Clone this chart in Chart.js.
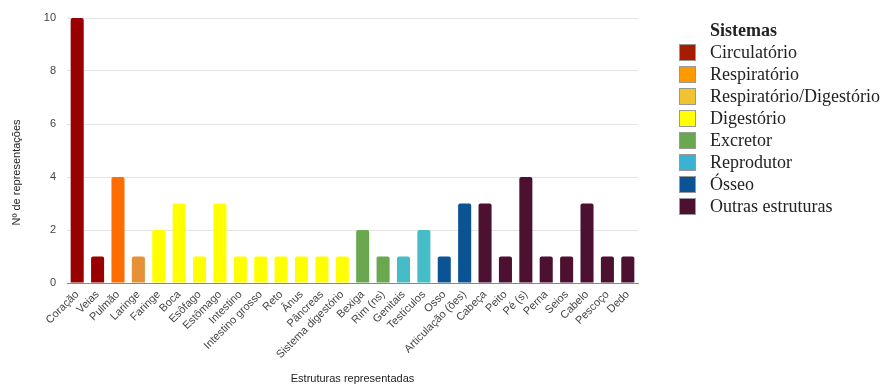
<!DOCTYPE html>
<html lang="pt">
<head>
<meta charset="utf-8">
<script src="https://cdn.jsdelivr.net/npm/chart.js@4"></script>
<style>
  html, body { margin: 0; padding: 0; background: #fff; }
  #wrap { position: relative; width: 886px; height: 388px; }
  #chart { position: absolute; left: 0; top: 0; }
  #legend {
    position: absolute; left: 679px; top: 19px;
    font-family: "Liberation Serif", "Times New Roman", serif; font-size: 18px; color: #222;
  }
  #legend .title { font-weight: bold; margin-left: 31px; height: 22px; line-height: 22px; }
  #legend .item { display: flex; align-items: center; height: 22px; }
  #legend .box {
    width: 15px; height: 15px; border: 1px solid #999; box-sizing: content-box;
    margin-right: 14px; flex: none;
  }
</style>
</head>
<body>
<div id="wrap">
  <canvas id="chart" width="886" height="388"></canvas>
  <div id="legend"></div>
</div>
<script>
// Body structures and how many times each was represented
const categories = [
  "Coração", "Veias", "Pulmão", "Laringe", "Faringe", "Boca", "Esôfago",
  "Estômago", "Intestino", "Intestino grosso", "Reto", "Ânus", "Pâncreas",
  "Sistema digestório", "Bexiga", "Rim (ns)", "Genitais", "Testículos",
  "Osso", "Articulação (ões)", "Cabeça", "Peito", "Pé (s)", "Perna",
  "Seios", "Cabelo", "Pescoço", "Dedo"
];
const values = [10, 1, 4, 1, 2, 3, 1, 3, 1, 1, 1, 1, 1, 1, 2, 1, 1, 2, 1, 3, 3, 1, 4, 1, 1, 3, 1, 1];

// Body system each structure belongs to (index into systemNames)
const systemOf = [0, 0, 1, 2, 3, 3, 3, 3, 3, 3, 3, 3, 3, 3, 4, 4, 5, 5, 6, 6, 7, 7, 7, 7, 7, 7, 7, 7];
const systemNames = [
  "Circulatório", "Respiratório", "Respiratório/Digestório", "Digestório",
  "Excretor", "Reprodutor", "Ósseo", "Outras estruturas"
];
const barColors = ["#990000", "#ff6d01", "#e69138", "#ffff00", "#6aa84f", "#46bdc6", "#0b5394", "#4c1130"];
const legendColors = ["#a61c00", "#ff9900", "#f1c232", "#ffff00", "#6aa84f", "#3cb1d3", "#0b5394", "#4c1130"];
const yTicks = [0, 2, 4, 6, 8, 10];
const yTitle = "Nº de representações";
const xTitle = "Estruturas representadas";

const axisFont = { family: "'Liberation Sans', Arial, sans-serif", size: 11 };

// Vertical axis title, drawn a little below the middle of the plot area
const yTitlePlugin = {
  id: "yTitle",
  afterDraw(chart) {
    const { ctx, chartArea } = chart;
    ctx.save();
    ctx.font = `${axisFont.size}px ${axisFont.family}`;
    ctx.fillStyle = "#222";
    ctx.textAlign = "center";
    ctx.textBaseline = "middle";
    ctx.translate(17, (chartArea.top + chartArea.bottom) / 2 + 22);
    ctx.rotate(-Math.PI / 2);
    ctx.fillText(yTitle, 0, 0);
    ctx.restore();
  }
};

new Chart(document.getElementById("chart"), {
  type: "bar",
  data: {
    labels: categories,
    datasets: [{
      data: values,
      backgroundColor: systemOf.map(s => barColors[s]),
      borderWidth: 0,
      borderRadius: 2,
      borderSkipped: "bottom",
      barPercentage: 0.64,
      categoryPercentage: 1.0
    }]
  },
  options: {
    responsive: false,
    animation: false,
    layout: { padding: { top: 18, right: 248, bottom: 0, left: 0 } },
    plugins: { legend: { display: false }, tooltip: { enabled: false } },
    scales: {
      x: {
        grid: { display: false, drawTicks: false },
        border: { display: true, color: "#888", width: 1 },
        ticks: {
          color: "#444", font: axisFont, padding: 5,
          minRotation: 45, maxRotation: 45, autoSkip: false
        },
        title: {
          display: true, text: xTitle,
          color: "#222", font: axisFont, padding: { top: 0, bottom: 2 }
        },
        afterFit(scale) { scale.height = 105; }
      },
      y: {
        min: 0, max: 10,
        afterBuildTicks(scale) { scale.ticks = yTicks.map(v => ({ value: v })); },
        grid: { color: "#e4e4e4", drawTicks: false },
        border: { display: false },
        ticks: { color: "#444", font: axisFont, padding: 11 },
        afterFit(scale) { scale.width = 67; }
      }
    }
  },
  plugins: [yTitlePlugin]
});

// Legend of body systems
const legend = document.getElementById("legend");
const head = document.createElement("div");
head.className = "title";
head.textContent = "Sistemas";
legend.appendChild(head);
systemNames.forEach((name, i) => {
  const row = document.createElement("div");
  row.className = "item";
  const box = document.createElement("span");
  box.className = "box";
  box.style.background = legendColors[i];
  const label = document.createElement("span");
  label.textContent = name;
  row.appendChild(box);
  row.appendChild(label);
  legend.appendChild(row);
});
</script>
</body>
</html>
